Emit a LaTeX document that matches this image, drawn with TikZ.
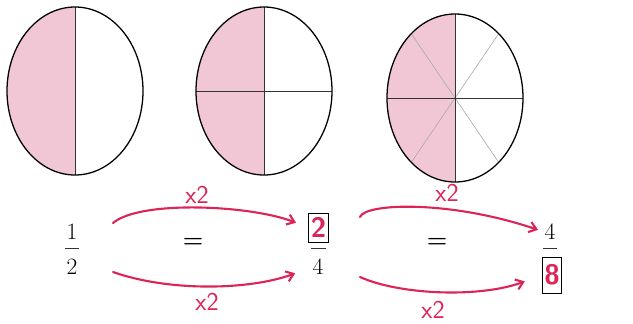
\documentclass[tikz,border=0pt]{standalone}
\usepackage{xcolor}
\usepackage{tikz}
\usetikzlibrary{arrows.meta, positioning, calc}
\definecolor{pinkfill}{HTML}{F2C7D5}
\definecolor{ink}{HTML}{DC2457}

\begin{document}
\begin{tikzpicture}[x=0.03cm, y=-0.03cm,
    pie/.style={draw=black, line width=1.1pt},
    cut/.style={draw=black!80, line width=0.6pt},
    fine/.style={draw=black!35, line width=0.5pt},
    dig/.style={font=\fontsize{20}{22}\selectfont, inner sep=0pt},
    eqs/.style={font=\fontsize{20}{22}\selectfont\bfseries, inner sep=0pt},
    bx/.style={draw=black, line width=0.6pt, inner sep=0pt, minimum width=0.58cm,
               text=ink, font=\fontsize{24}{26}\selectfont\sffamily\bfseries},
    e/.style={-{Straight Barb[length=6pt,width=9pt]}, line width=1.8pt, color=ink, line cap=round},
    lab/.style={text=ink, font=\fontsize{22}{24}\selectfont\sffamily}
]
\useasboundingbox (0,0) rectangle (633,323);

% pies
\coordinate (p1) at (75,91);
\coordinate (p2) at (264,91);
\coordinate (p3) at (455,98);

\foreach \p in {p1,p2,p3}{
  \begin{scope}
    \clip ($(\p)+(-80,-100)$) rectangle ($(\p)+(0,100)$);
    \fill[pinkfill] (\p) ellipse [x radius=68, y radius=84];
  \end{scope}
}

\draw[fine] ($(p3)+(50:68 and 84)$) -- ($(p3)+(230:68 and 84)$);
\draw[fine] ($(p3)+(130:68 and 84)$) -- ($(p3)+(310:68 and 84)$);
\draw[cut] ($(p1)+(0,-84)$) -- ($(p1)+(0,84)$);
\draw[cut] ($(p2)+(0,-84)$) -- ($(p2)+(0,84)$);
\draw[cut] ($(p2)+(-68,0)$) -- ($(p2)+(68,0)$);
\draw[cut] ($(p3)+(0,-84)$) -- ($(p3)+(0,84)$);
\draw[cut] ($(p3)+(-68,0)$) -- ($(p3)+(68,0)$);
\foreach \p in {p1,p2,p3}
  \draw[pie] (\p) ellipse [x radius=68, y radius=84];

% fractions
\node[dig] (n1) at (72,232) {1};
\node[dig] (d1) at (72,267) {2};
\draw[cut] (65,248) -- (79,248);
\node[eqs] (eq1) at (193,243) {=};
\node[bx, minimum height=0.87cm] (n2) at (318.5,227.5) {2};
\node[dig] (d2) at (318,267) {4};
\draw[cut] (311,248) -- (326,248);
\node[eqs] (eq2) at (437,243) {=};
\node[dig] (n3) at (550,232) {4};
\draw[cut] (543,248) -- (557,248);
\node[bx, minimum height=1.08cm] (d3) at (552,275) {8};

% times two
\coordinate (a1) at (113,223);
\coordinate (b1) at (113,272);
\coordinate (a2) at (360,217);
\coordinate (b2) at (360,277);
\draw[e, shorten >=0.4cm] (a1) .. controls (140,200) and (250,205) .. (n2.west);
\draw[e, shorten >=0.55cm] (b1) .. controls (170,292) and (250,290) .. (d2.west);
\draw[e, shorten >=0.2cm] (a2) .. controls (365,203) and (450,200) .. (n3.west);
\draw[e, shorten >=0.55cm] (b2) .. controls (400,295) and (480,298) .. (d3.west);
\node[lab] (m1) at (197,195) {x2};
\node[lab] (m2) at (207,302) {x2};
\node[lab] (m3) at (447,193) {x2};
\node[lab] (m4) at (433,310) {x2};
\end{tikzpicture}
\end{document}
